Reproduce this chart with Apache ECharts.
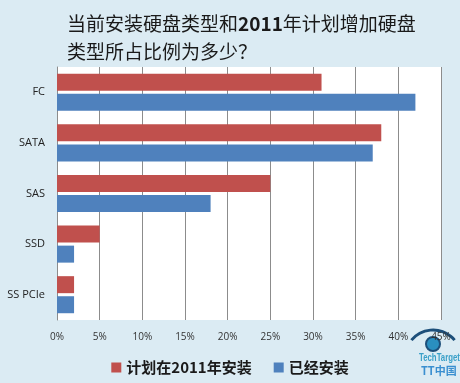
<!DOCTYPE html>
<html><head><meta charset="utf-8">
<script src="https://cdn.jsdelivr.net/npm/echarts@6/dist/echarts.min.js"></script>
<style>html,body{margin:0;padding:0;background:#dbebf3;}#c{width:460px;height:383px;}</style>
</head><body><div id="c"></div>
<script>
var categories = ['FC', 'SATA', 'SAS', 'SSD', 'SS PCIe'];
var planned2011 = [31, 38, 25, 5, 2];
var installed = [42, 37, 18, 2, 2];
var seriesNames = ['计划在2011年安装', '已经安装'];
var xTicks = [0, 5, 10, 15, 20, 25, 30, 35, 40, 45];

var chart = echarts.init(document.getElementById('c'));
chart.setOption({
  backgroundColor: '#dbebf3',
  animation: false,
  title: {
    text: '{a|当前安装硬盘类型和}{b|2011}{a|年计划增加硬盘}\n{a|类型所占比例为多少？}',
    left: 62, top: 5,
    textStyle: {
      fontWeight: 'normal',
      rich: {
        a: {fontFamily: 'Noto Sans CJK SC', fontSize: 19, fontWeight: 'normal', color: '#1a1a1a', lineHeight: 28},
        b: {fontFamily: 'Noto Sans CJK SC', fontSize: 19, fontWeight: 'bold', color: '#1a1a1a', lineHeight: 28}
      }
    }
  },
  legend: {
    data: seriesNames,
    bottom: 3, left: 'center',
    itemWidth: 10, itemHeight: 10, itemGap: 22,
    icon: 'rect',
    textStyle: {fontFamily: 'Noto Sans CJK SC', fontSize: 15, fontWeight: 'bold', color: '#1a1a1a'}
  },
  grid: {left: 57, right: 19, top: 67, bottom: 63, backgroundColor: '#ffffff', show: true, borderWidth: 0},
  xAxis: {
    type: 'value', min: xTicks[0], max: xTicks[xTicks.length - 1], interval: 5,
    axisLine: {show: false}, axisTick: {show: false},
    splitLine: {lineStyle: {color: '#8c8c8c', width: 1}},
    axisLabel: {formatter: '{value}%', fontFamily: 'Open Sans', fontSize: 10, color: '#333', margin: 12}
  },
  yAxis: {
    type: 'category', data: categories, inverse: true,
    axisLine: {show: true, lineStyle: {color: '#8c8c8c'}}, axisTick: {show: false},
    axisLabel: {fontFamily: 'Open Sans', fontSize: 11, color: '#222', margin: 12}
  },
  series: [
    {name: seriesNames[0], type: 'bar', data: planned2011, barWidth: 17, barGap: '18%', itemStyle: {color: '#c0504d'}},
    {name: seriesNames[1], type: 'bar', data: installed, barWidth: 17, barGap: '18%', itemStyle: {color: '#4f81bd'}}
  ],
  graphic: [
    {type: 'arc', shape: {cx: 433, cy: 358, r: 28, startAngle: Math.PI * 1.22, endAngle: Math.PI * 1.78}, style: {stroke: '#1d4f7a', lineWidth: 3, fill: null}},
    {type: 'circle', shape: {cx: 433, cy: 344, r: 7}, style: {fill: '#2a8fc0', stroke: '#1d4f7a', lineWidth: 2}},
    {type: 'text', x: 419, y: 353, scaleX: 0.78, style: {text: 'TechTarget', fontFamily: 'Liberation Sans', fontSize: 10, fontWeight: 'bold', fill: '#3aa0c8'}},
    {type: 'text', left: 421, top: 365, style: {text: 'TT中国', fontFamily: 'Noto Sans CJK SC', fontSize: 11, fontWeight: 'bold', fill: '#3a8fd0'}}
  ]
});
</script></body></html>
